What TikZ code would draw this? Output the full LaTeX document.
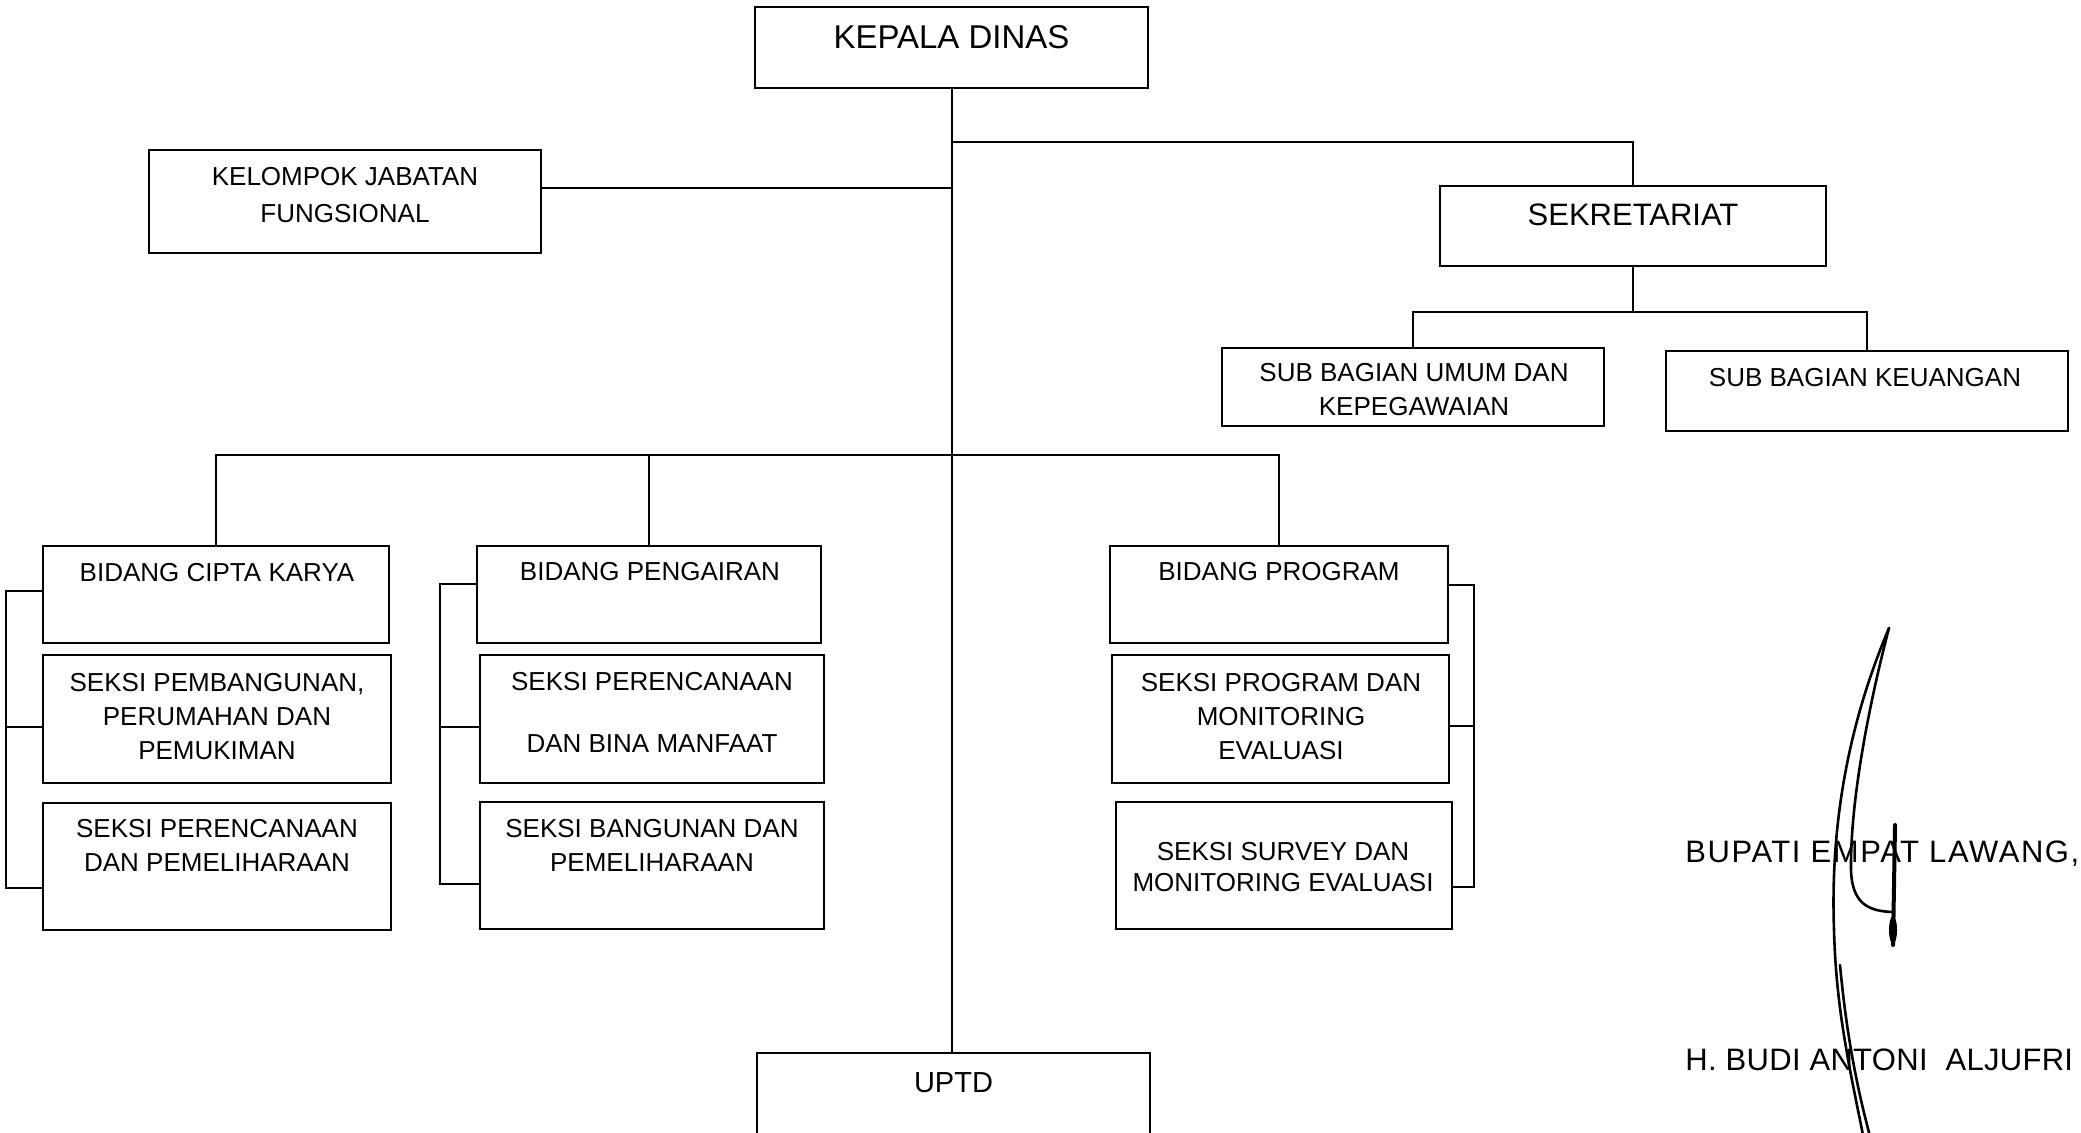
\documentclass[tikz,border=0pt]{standalone}
\usepackage{fontspec}
\setmainfont{Liberation Sans}
\newfontfamily\sigtextfont[LetterSpace=5]{Liberation Sans}
\newfontfamily\namtextfont[LetterSpace=1]{Liberation Sans}
\usetikzlibrary{calc}
\tikzset{
  boxst/.style={draw, line width=1pt, rectangle, inner sep=0pt},
  txt/.style={inner sep=0pt, align=center, font=\fontsize{13}{17}\selectfont},
  conn/.style={line width=1pt},
  sig/.style={line width=1.3pt, line cap=round, line join=round},
}
\newcommand{\bxnode}[5]{%
  \pgfmathsetmacro{\bxcx}{(#2+#4)/2}%
  \pgfmathsetmacro{\bxcy}{(#3+#5)/2}%
  \pgfmathsetmacro{\bxw}{(#4-#2)*0.5}%
  \pgfmathsetmacro{\bxh}{(#5-#3)*0.5}%
  \node[boxst, minimum width=\bxw pt, minimum height=\bxh pt] (#1) at (\bxcx,\bxcy) {};}
\begin{document}
\begin{tikzpicture}[x=0.5pt, y=-0.5pt]
\fill[white] (0,0) rectangle (2081,1133);
\useasboundingbox (0,0) rectangle (2081,1133);
% boxes
\bxnode{kd}{755}{7}{1148}{88}
\bxnode{kjf}{149}{150}{541}{253}
\bxnode{sek}{1440}{186}{1826}{266}
\bxnode{sbu}{1222}{348}{1604}{426}
\bxnode{sbk}{1666}{351}{2068}{431}
\bxnode{bck}{43}{546}{389}{643}
\bxnode{sp1}{43}{655}{391}{783}
\bxnode{sp2}{43}{803}{391}{930}
\bxnode{bpg}{477}{546}{821}{643}
\bxnode{sp3}{480}{655}{824}{783}
\bxnode{sp4}{480}{802}{824}{929}
\bxnode{bpr}{1110}{546}{1448}{643}
\bxnode{sp5}{1112}{655}{1449}{783}
\bxnode{sp6}{1116}{802}{1452}{929}
\bxnode{uptd}{757}{1053}{1150}{1175}
% texts
\node[txt, font=\fontsize{16.5}{20}\selectfont] (kdt) at (951.5,37) {KEPALA DINAS};
\node[txt, font=\fontsize{13}{18.5}\selectfont] (kjft) at (345,195) {KELOMPOK JABATAN\\FUNGSIONAL};
\node[txt, font=\fontsize{15.5}{19}\selectfont] (sekt) at (1633,215) {SEKRETARIAT};
\node[txt] (sbut) at (1414,390) {SUB BAGIAN UMUM DAN\\KEPEGAWAIAN};
\node[txt] (sbkt) at (1865,378) {SUB BAGIAN KEUANGAN};
\node[txt] (bckt) at (217,573) {BIDANG CIPTA KARYA};
\node[txt] (sp1t) at (217,717) {SEKSI PEMBANGUNAN,\\PERUMAHAN DAN\\PEMUKIMAN};
\node[txt] (sp2t) at (217,845) {SEKSI PERENCANAAN\\DAN PEMELIHARAAN};
\node[txt] (bpgt) at (650,572) {BIDANG PENGAIRAN};
\node[txt, font=\fontsize{13}{31}\selectfont] (sp3t) at (652,712) {SEKSI PERENCANAAN\\DAN BINA MANFAAT};
\node[txt] (sp4t) at (652,845) {SEKSI BANGUNAN DAN\\PEMELIHARAAN};
\node[txt] (bprt) at (1279,572) {BIDANG PROGRAM};
\node[txt] (sp5t) at (1281,717) {SEKSI PROGRAM DAN\\MONITORING\\EVALUASI};
\node[txt, font=\fontsize{13}{15.5}\selectfont] (sp6t) at (1283,867) {SEKSI SURVEY DAN\\MONITORING EVALUASI};
\node[txt, font=\fontsize{14.5}{18}\selectfont] (uptdt) at (953.5,1083) {UPTD};
% junctions
\coordinate (j1) at (951.5,142);
\coordinate (j2) at (951.5,188);
\coordinate (j3) at (1633,312);
\coordinate (j4) at (951.5,455);
% connectors
\draw[conn] (kd.south) -- (kd.south |- uptd.north);
\draw[conn] (j1) -| (sek.north);
\draw[conn] (kjf.east |- j2) -- (j2);
\draw[conn] (sek.south) -- (j3);
\draw[conn] (sbu.north) |- (j3) -| (sbk.north);
\draw[conn] (bck.north) |- (j4) -| (bpr.north);
\draw[conn] (bpg.north) -- (bpg.north |- j4);
% brackets
\coordinate (lbx) at (6,0);
\coordinate (mbx) at (440,0);
\coordinate (rbx) at (1474,0);
\path ($(bck.north west)!0.46!(bck.south west)$) coordinate (a1)
      ($(sp1.north west)!0.56!(sp1.south west)$) coordinate (a2)
      ($(sp2.north west)!0.67!(sp2.south west)$) coordinate (a3)
      ($(bpg.north west)!0.39!(bpg.south west)$) coordinate (b1)
      ($(sp3.north west)!0.56!(sp3.south west)$) coordinate (b2)
      ($(sp4.north west)!0.64!(sp4.south west)$) coordinate (b3)
      ($(bpr.north east)!0.40!(bpr.south east)$) coordinate (c1)
      ($(sp5.north east)!0.55!(sp5.south east)$) coordinate (c2)
      ($(sp6.north east)!0.67!(sp6.south east)$) coordinate (c3);
\draw[conn] (a1) -- (a1 -| lbx) -- (a3 -| lbx) -- (a3);
\draw[conn] (a2) -- (a2 -| lbx);
\draw[conn] (b1) -- (b1 -| mbx) -- (b3 -| mbx) -- (b3);
\draw[conn] (b2) -- (b2 -| mbx);
\draw[conn] (c1) -- (c1 -| rbx) -- (c3 -| rbx) -- (c3);
\draw[conn] (c2) -- (c2 -| rbx);
% signature block
\node[inner sep=0pt, anchor=base west, font=\sigtextfont\fontsize{15.5}{18}\selectfont] (bup) at (1685,862) {BUPATI EMPAT LAWANG,};
\node[inner sep=0pt, anchor=base west, font=\namtextfont\fontsize{15.5}{18}\selectfont] (nama) at (1685,1070) {H. BUDI ANTONI\ \ ALJUFRI};
\draw[sig] (1889,628) .. controls (1850,720) and (1830,820) .. (1834,930) .. controls (1836,1010) and (1850,1070) .. (1864,1140);
\draw[sig] (1840,965) .. controls (1846,1030) and (1856,1085) .. (1871,1140);
\draw[sig] (1889,628) .. controls (1870,700) and (1850,800) .. (1851,870) .. controls (1852,905) and (1870,911) .. (1892,912);
\draw[sig, line width=2pt] (1895,825) -- (1893,945);
\fill (1893,930) ellipse [x radius=4, y radius=14];
\end{tikzpicture}
\end{document}
